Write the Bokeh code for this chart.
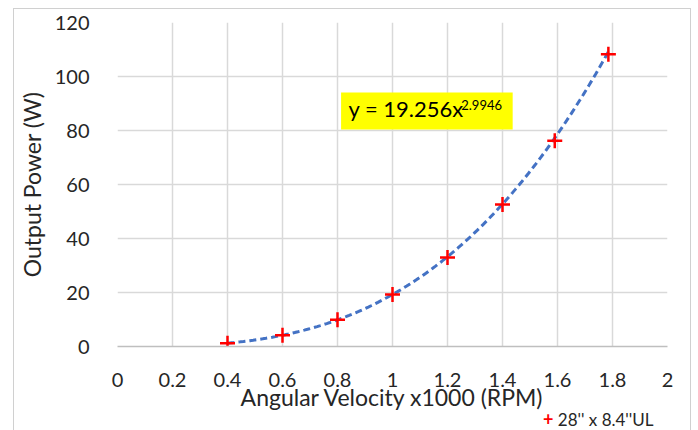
import numpy as np
from bokeh.plotting import figure
from bokeh.layouts import column
from bokeh.models import FixedTicker, Label, Div
from bokeh.embed import file_html
from bokeh.resources import INLINE

# ---- data ----
rpm = [0.4, 0.6, 0.8, 1.0, 1.2, 1.4, 1.59, 1.785]
power = [1.2, 4.2, 9.9, 19.3, 33.0, 52.6, 76.2, 108.2]
fit_a = 19.256
fit_b = 2.9946
x_ticks = [0, 0.2, 0.4, 0.6, 0.8, 1.0, 1.2, 1.4, 1.6, 1.8, 2.0]
x_tick_labels = ["0", "0.2", "0.4", "0.6", "0.8", "1", "1.2", "1.4", "1.6", "1.8", "2"]
y_ticks = [0, 20, 40, 60, 80, 100, 120]
series_name = "28'' x 8.4''UL"
equation_main = "y = 19.256x"
equation_sup = "2.9946"
x_title = "Angular Velocity x1000 (RPM)"
y_title = "Output Power (W)"

FONT = "Lato"
TXT = "#262626"
GRID = "#d9d9d9"
RED = "#ff0000"

p = figure(width=676, height=404, x_range=(0, 2), y_range=(0, 120),
           output_backend="svg", toolbar_location=None,
           min_border_left=102, min_border_right=23, min_border_top=13,
           min_border_bottom=67)
p.margin = 0
p.outline_line_color = None
p.background_fill_color = "white"
p.border_fill_color = "white"

p.xaxis.ticker = FixedTicker(ticks=x_ticks)
p.yaxis.ticker = FixedTicker(ticks=y_ticks)
p.xaxis.major_label_overrides = {t: l for t, l in zip(x_ticks, x_tick_labels)}
for g in (p.xgrid, p.ygrid):
    g.grid_line_color = GRID
    g.grid_line_width = 1.5

for ax in (p.xaxis, p.yaxis):
    ax.axis_line_color = None
    ax.major_tick_line_color = None
    ax.minor_tick_line_color = None
    ax.major_label_text_font = FONT
    ax.major_label_text_font_size = "20px"
    ax.major_label_text_color = TXT
    ax.axis_label_text_font = FONT
    ax.axis_label_text_font_size = "23px"
    ax.axis_label_text_font_style = "normal"
    ax.axis_label_text_color = TXT

p.xaxis.axis_line_color = "#bfbfbf"
p.xaxis.axis_line_width = 1.5
p.xaxis.major_label_standoff = 20
p.yaxis.major_label_standoff = 22
p.xaxis.axis_label = x_title
p.yaxis.axis_label = y_title
p.xaxis.axis_label_standoff = -7
p.yaxis.axis_label_standoff = 6

# trendline drawn from the displayed power-law equation
xs = np.linspace(min(rpm), max(rpm), 120)
ys = fit_a * xs ** fit_b
p.line(xs, ys, line_color="#4472C4", line_width=3, line_dash="7 4")

sc = p.scatter(rpm, power, marker="cross", size=15, line_color=RED,
               line_width=2.5)

# equation box
p.quad(left=[0.813], right=[1.437], bottom=[80.4], top=[94.1],
       fill_color="#ffff00", line_color=None)
p.add_layout(Label(x=0.84, y=83.2, text=equation_main, text_font=FONT,
                   text_font_size="22px", text_color="#000000"))
p.add_layout(Label(x=1.25, y=87.5, text=equation_sup, text_font=FONT,
                   text_font_size="13px", text_color="#000000"))

# legend below the axis title
legend_div = Div(
    text=(f'<div style="font-family:Lato;font-size:17px;color:{TXT};'
          f'line-height:13px;white-space:nowrap">'
          f'<span style="color:{RED};font-weight:bold;font-size:18px">+</span>'
          f'&nbsp;{series_name}</div>'),
    width=140, height=17, margin=(0, 0, 0, 529))

layout = column(p, legend_div, margin=(8, 0, 0, 13),
                styles={"border": "1px solid #d0d0d0"})

open("out.html", "w").write(file_html(layout, INLINE))
